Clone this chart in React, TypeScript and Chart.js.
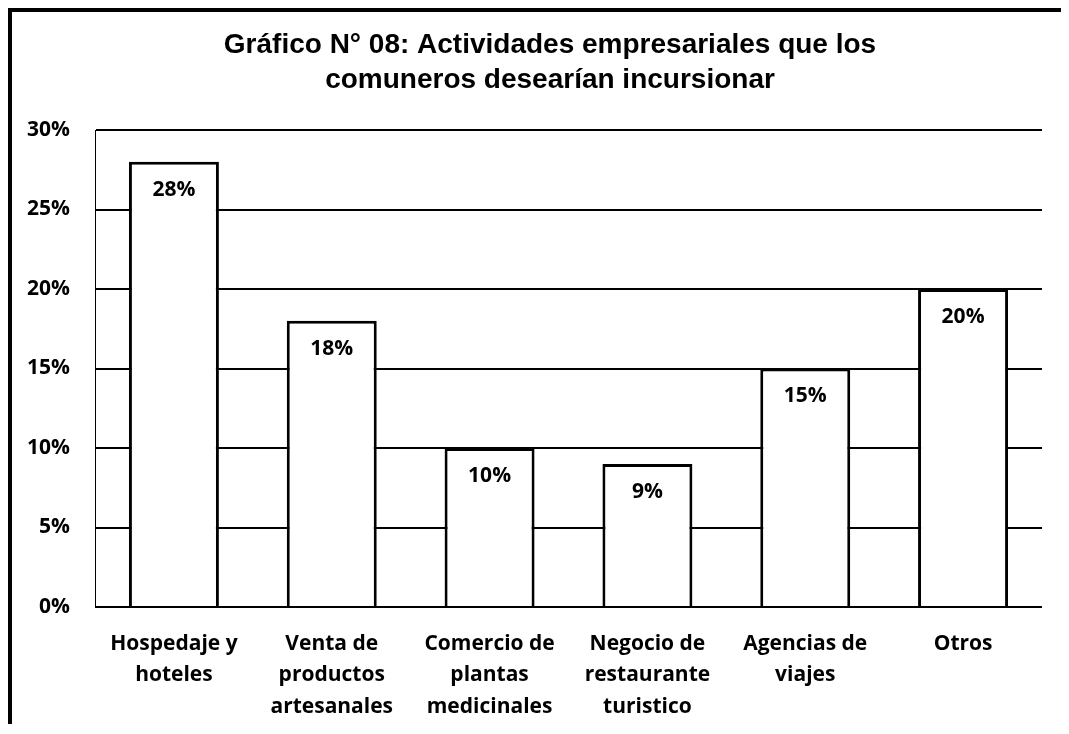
import React, { useEffect, useRef } from "react";
import { Chart, registerables } from "chart.js";

Chart.register(...registerables);

const titleLines = ["Gráfico N° 08: Actividades empresariales que los", "comuneros desearían incursionar"];
const categories: string[][] = [
  ["Hospedaje y", "hoteles"],
  ["Venta de", "productos", "artesanales"],
  ["Comercio de", "plantas", "medicinales"],
  ["Negocio de", "restaurante", "turistico"],
  ["Agencias de", "viajes"],
  ["Otros"],
];
const values = [28, 18, 10, 9, 15, 20];
const yTicks = [0, 5, 10, 15, 20, 25, 30];

const labelFont = "'Open Sans', Lato, sans-serif";

const valueLabels = {
  id: "valueLabels",
  afterDatasetsDraw(chart: any) {
    const ctx = chart.ctx;
    const meta = chart.getDatasetMeta(0);
    ctx.save();
    ctx.font = `bold 21px ${labelFont}`;
    ctx.fillStyle = "#000";
    ctx.textAlign = "center";
    ctx.textBaseline = "middle";
    meta.data.forEach((bar: any, i: number) => {
      ctx.fillText(values[i] + "%", bar.x, bar.y + 28);
    });
    ctx.restore();
  },
};

const titleDraw = {
  id: "titleDraw",
  afterDraw(chart: any) {
    const ctx = chart.ctx;
    ctx.save();
    ctx.font = "bold 28px 'Liberation Sans', Arial, sans-serif";
    ctx.fillStyle = "#000";
    ctx.textAlign = "center";
    ctx.textBaseline = "alphabetic";
    ctx.fillText(titleLines[0], 538, 41);
    ctx.fillText(titleLines[1], 538, 76);
    ctx.restore();
  },
};

export default function App() {
  const ref = useRef<HTMLCanvasElement>(null);
  useEffect(() => {
    if (!ref.current) return;
    const chart = new Chart(ref.current, {
      type: "bar",
      data: {
        labels: categories,
        datasets: [
          {
            data: values,
            backgroundColor: "#ffffff",
            borderColor: "#000000",
            borderWidth: 3,
            barPercentage: 0.57,
            categoryPercentage: 1,
          },
        ],
      },
      options: {
        animation: false,
        responsive: false,
        maintainAspectRatio: false,
        layout: { padding: { left: 0, right: 19, top: 118, bottom: 0 } },
        plugins: {
          legend: { display: false },
          tooltip: { enabled: false },
          title: { display: false },
        },
        scales: {
          x: {
            grid: { display: false, drawTicks: false },
            border: { display: false },
            ticks: {
              color: "#000",
              font: { family: labelFont, size: 21, weight: "bold", lineHeight: 1.5 },
              padding: 21,
              maxRotation: 0,
              autoSkip: false,
            },
            afterFit: (s: any) => {
              s.height = 117;
            },
          },
          y: {
            min: 0,
            max: 30,
            grid: { color: "#000", lineWidth: 2, drawTicks: false },
            border: { display: true, color: "#000", width: 1 },
            afterBuildTicks: (s: any) => {
              s.ticks = yTicks.map((v) => ({ value: v }));
            },
            ticks: {
              color: "#000",
              font: { family: labelFont, size: 21, weight: "bold" },
              padding: 25,
              callback: (v: any) => v + "%",
            },
            afterFit: (s: any) => {
              s.width = 83;
            },
          },
        },
      },
      plugins: [valueLabels, titleDraw],
    });
    return () => chart.destroy();
  }, []);
  return (
    <div
      style={{
        borderTop: "4px solid #000",
        borderLeft: "4px solid #000",
        width: 1049,
        height: 712,
        background: "#fff",
      }}
    >
      <canvas ref={ref} width={1049} height={712} style={{ display: "block", width: 1049, height: 712 }} />
    </div>
  );
}
